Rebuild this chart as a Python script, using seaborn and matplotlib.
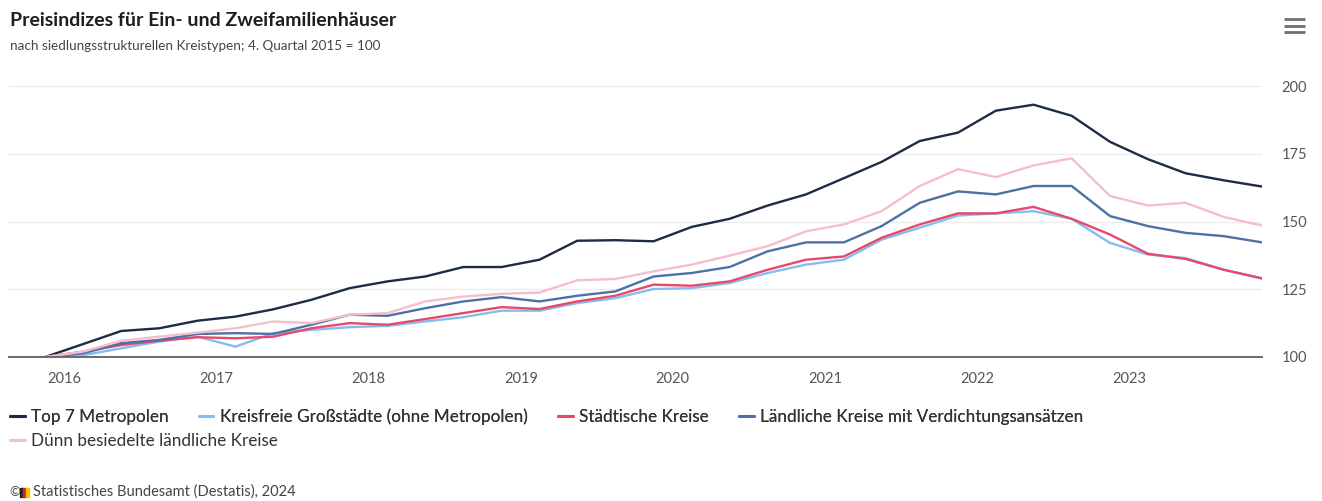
import numpy as np
import pandas as pd
import matplotlib
matplotlib.use("Agg")
import matplotlib.pyplot as plt
import matplotlib.dates as mdates
from matplotlib.lines import Line2D
from matplotlib.patches import Rectangle
import seaborn as sns

# ---------------- data ----------------
quarters = ["2015Q4"] + [f"{y}Q{q}" for y in range(2016, 2024) for q in range(1, 5)]

series_names = [
    "Top 7 Metropolen",
    "Kreisfreie Großstädte (ohne Metropolen)",
    "Städtische Kreise",
    "Ländliche Kreise mit Verdichtungsansätzen",
    "Dünn besiedelte ländliche Kreise",
]

top7 = [100.0,
        104.8, 109.6, 110.6, 113.4,
        114.9, 117.6, 121.1, 125.4,
        127.9, 129.7, 133.2, 133.2,
        135.9, 142.9, 143.1, 142.7,
        148.0, 151.0, 155.9, 160.0,
        166.0, 172.0, 179.7, 182.8,
        190.9, 193.1, 189.0, 179.4,
        173.0, 167.8, 165.2, 162.9]

kreisfreie = [100.0,
              100.7, 103.2, 105.7, 107.5,
              103.8, 108.8, 110.0, 111.0,
              111.5, 113.1, 114.7, 117.1,
              117.1, 119.9, 121.7, 125.1,
              125.4, 127.3, 131.0, 134.1,
              135.9, 143.3, 147.7, 152.2,
              153.0, 153.8, 151.0, 142.1,
              137.8, 136.5, 132.2, 129.0]

staedtisch = [100.0,
              102.0, 104.4, 106.0, 107.3,
              106.9, 107.5, 110.6, 112.5,
              111.9, 114.0, 116.2, 118.4,
              117.7, 120.5, 122.6, 126.7,
              126.3, 127.9, 132.2, 135.9,
              137.1, 144.0, 148.9, 153.0,
              153.0, 155.4, 151.0, 145.2,
              138.1, 136.2, 132.2, 129.0]

laendlich = [100.0,
             101.4, 105.1, 106.3, 108.5,
             108.8, 108.5, 111.9, 115.6,
             115.2, 118.0, 120.5, 122.1,
             120.5, 122.6, 124.2, 129.7,
             131.0, 133.2, 139.0, 142.3,
             142.3, 148.3, 156.9, 161.1,
             160.0, 163.1, 163.1, 152.0,
             148.3, 145.8, 144.6, 142.3]

duenn = [100.0,
         102.0, 106.0, 107.5, 109.0,
         110.6, 113.1, 112.5, 115.6,
         116.2, 120.5, 122.3, 123.3,
         123.8, 128.3, 128.8, 131.6,
         134.1, 137.4, 140.9, 146.4,
         148.9, 153.8, 163.1, 169.3,
         166.4, 170.7, 173.3, 159.4,
         155.9, 156.9, 151.7, 148.5]

y_ticks = [100, 125, 150, 175, 200]

colors = {
    "Top 7 Metropolen": "#1d2b45",
    "Kreisfreie Großstädte (ohne Metropolen)": "#86bdf0",
    "Städtische Kreise": "#e6496a",
    "Ländliche Kreise mit Verdichtungsansätzen": "#4c70a8",
    "Dünn besiedelte ländliche Kreise": "#f4bfca",
}

# ---------------- frame ----------------
periods = pd.PeriodIndex(quarters, freq="Q")
mid = periods.start_time + (periods.end_time - periods.start_time) / 2
all_vals = [top7, kreisfreie, staedtisch, laendlich, duenn]
df = pd.concat(
    [pd.DataFrame({"Quartal": mid, "Index": v, "Reihe": n}) for n, v in zip(series_names, all_vals)],
    ignore_index=True,
)

# ---------------- style ----------------
sns.set_style("white")
plt.rcParams["font.family"] = ["Lato", "DejaVu Sans"]

W, H = 1322, 501
fig = plt.figure(figsize=(W / 100, H / 100), dpi=100)
fx = lambda px: px / W
fy = lambda py: 1 - py / H

ax = fig.add_axes([fx(9), fy(357), (1262 - 9) / W, (357 - 86) / H])
sns.lineplot(data=df, x="Quartal", y="Index", hue="Reihe", hue_order=series_names,
             palette=colors, linewidth=1.7, legend=False, errorbar=None, ax=ax)

ax.set_ylim(100, 200)
ax.set_xlim(pd.Timestamp("2015-08-21"), pd.Timestamp("2023-11-16"))
ax.set_xlabel("")
ax.set_ylabel("")

for s in ["top", "left", "right"]:
    ax.spines[s].set_visible(False)
ax.spines["bottom"].set_color("#6b6b6b")
ax.spines["bottom"].set_linewidth(1.4)

ax.yaxis.tick_right()
ax.set_yticks(y_ticks)
ax.tick_params(axis="y", length=0, pad=14, labelsize=10.5, labelcolor="#555555")
ax.grid(axis="y", color="#ececec", linewidth=1.0)
ax.set_axisbelow(True)

ax.xaxis.set_major_locator(mdates.YearLocator())
ax.xaxis.set_major_formatter(mdates.DateFormatter("%Y"))
ax.xaxis.set_minor_locator(mdates.MonthLocator(bymonth=[4, 7, 10]))
ax.tick_params(axis="x", which="major", length=6, width=1.1, color="#6b6b6b",
               pad=5, labelsize=10.5, labelcolor="#555555", direction="out")
ax.tick_params(axis="x", which="minor", length=4, width=1.0, color="#8a8a8a", direction="out")

# ---------------- titles ----------------
fig.text(fx(10), fy(20), "Preisindizes für Ein- und Zweifamilienhäuser", fontsize=14,
         fontweight="bold", color="#1e1e1e", va="center", ha="left")
fig.text(fx(10), fy(46), "nach siedlungsstrukturellen Kreistypen; 4. Quartal 2015 = 100",
         fontsize=9.7, color="#444444", va="center", ha="left")

# hamburger menu
for yy in (19, 25.5, 32):
    fig.add_artist(Line2D([fx(1284), fx(1305)], [fy(yy), fy(yy)], color="#707070",
                          linewidth=2.0, solid_capstyle="butt"))

# ---------------- legend ----------------
handles = [Line2D([0], [0], color=colors[n], linewidth=2.2) for n in series_names]
leg1 = fig.legend(handles[:4], series_names[:4], ncol=4, loc="center left",
                  bbox_to_anchor=(fx(10), fy(417)), frameon=False, fontsize=12.3,
                  handlelength=0.85, handletextpad=0.4, columnspacing=1.75,
                  borderpad=0, borderaxespad=0, labelcolor="#333333")
fig.add_artist(leg1)
fig.legend(handles[4:], series_names[4:], ncol=1, loc="center left",
           bbox_to_anchor=(fx(10), fy(441)), frameon=False, fontsize=12.3,
           handlelength=0.85, handletextpad=0.4, borderpad=0, borderaxespad=0,
           labelcolor="#333333")

# ---------------- footer ----------------
fig.text(fx(9), fy(492), "©", fontsize=9.5, color="#444444", va="center", ha="left")
for i, c in enumerate(["#222222", "#d8232a", "#f5c400"]):
    fig.add_artist(Rectangle((fx(20 + i * 3), fy(497)), 2.5 / W, 9 / H, color=c,
                             transform=fig.transFigure))
fig.text(fx(33), fy(492), "Statistisches Bundesamt (Destatis), 2024", fontsize=10.5,
         color="#444444", va="center", ha="left")

fig.savefig("out.png", dpi=100, facecolor="white")
